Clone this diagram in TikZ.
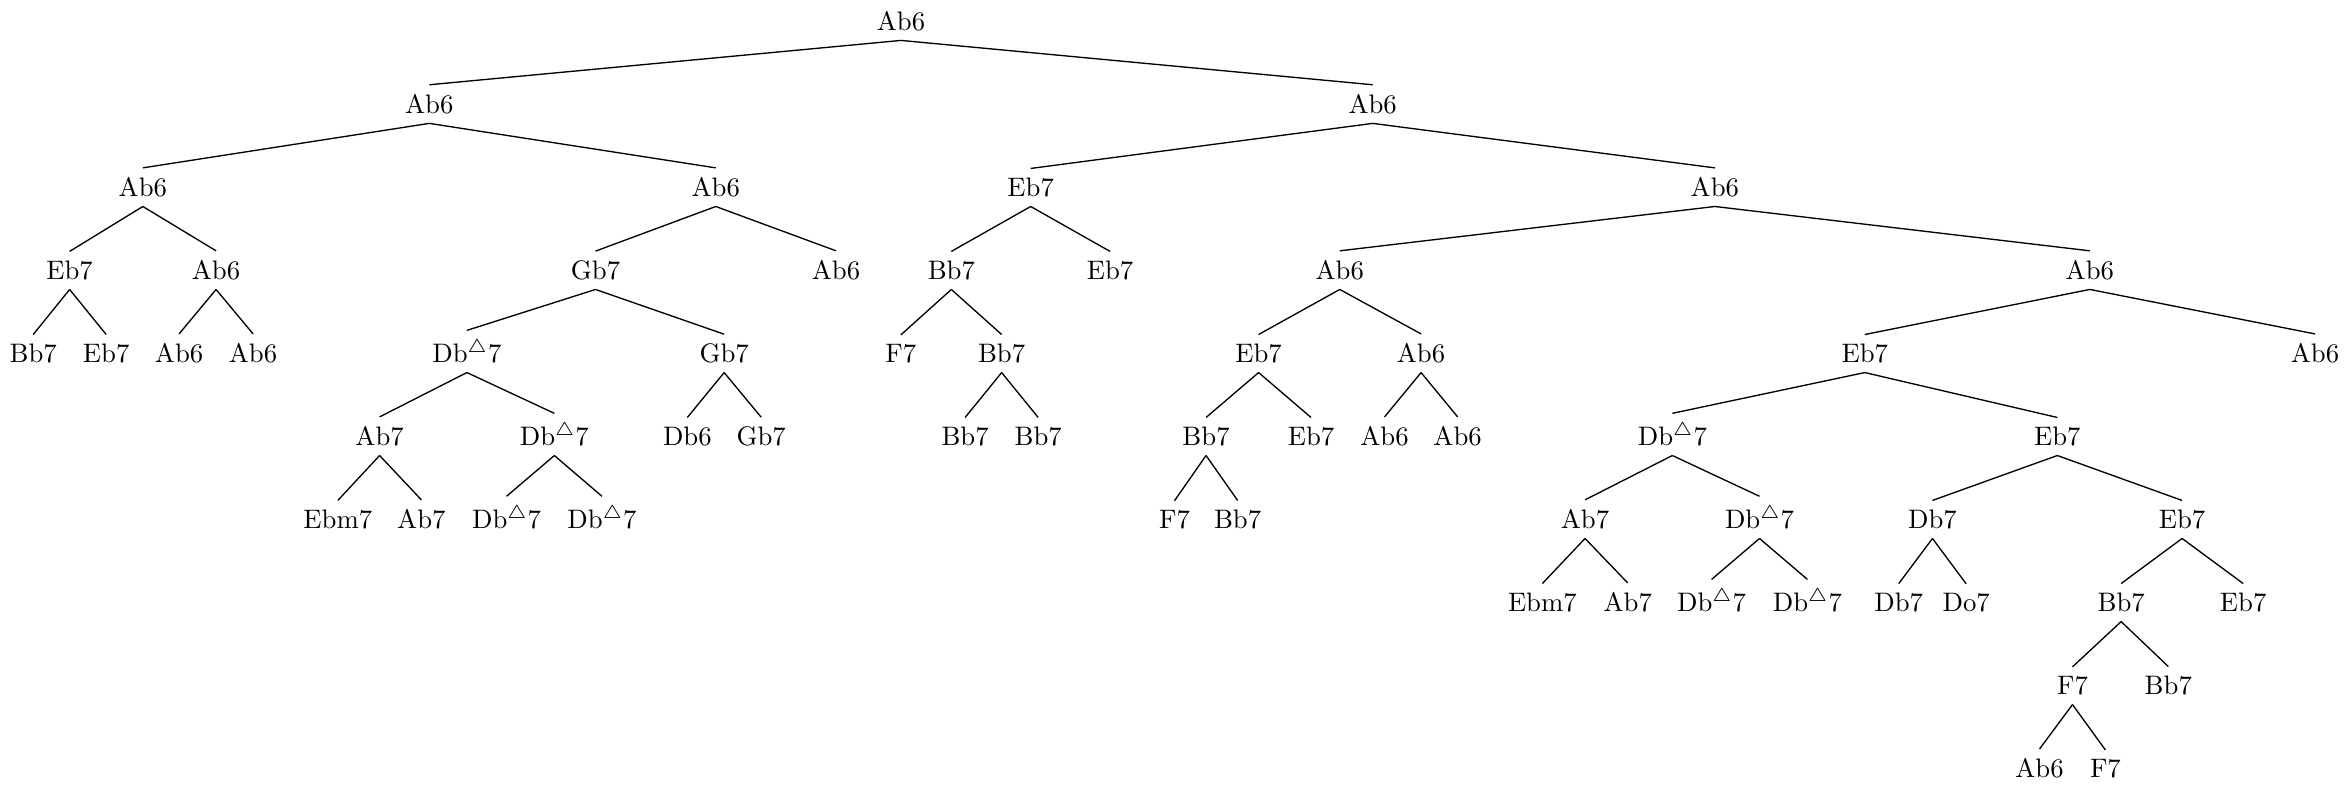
\documentclass[tikz,border=0pt]{standalone}
\newcommand\dmaj{Db$^{\triangle}$7}
\begin{document}
\begin{tikzpicture}[x=0.56pt,y=-0.56pt,
  tn/.style={anchor=base, inner sep=0.3333em},
  br/.style={line width=0.5pt}]
\useasboundingbox (0,0) rectangle (1568,524.2);
% level 0
\node[tn] (r) at (601.7,20.3) {Ab6};
% level 1
\node[tn] (a) at (286.7,75.7) {Ab6};
\node[tn] (b) at (916.7,75.7) {Ab6};
% level 2
\node[tn] (aa) at (95.4,131.2) {Ab6};
\node[tn] (ab) at (478.0,131.2) {Ab6};
\node[tn] (ba) at (688.3,131.2) {Eb7};
\node[tn] (bb) at (1145.2,131.2) {Ab6};
% level 3
\node[tn] (aaa) at (46.5,186.6) {Eb7};
\node[tn] (aab) at (144.3,186.6) {Ab6};
\node[tn] (aba) at (397.7,186.6) {Gb7};
\node[tn] (abb) at (558.3,186.6) {Ab6};
\node[tn] (baa) at (635.3,186.6) {Bb7};
\node[tn] (bab) at (741.3,186.6) {Eb7};
\node[tn] (bba) at (894.7,186.6) {Ab6};
\node[tn] (bbb) at (1395.6,186.6) {Ab6};
% level 4
\node[tn] (aaaa) at (22.2,242.1) {Bb7};
\node[tn] (aaab) at (70.9,242.1) {Eb7};
\node[tn] (aaba) at (119.6,242.1) {Ab6};
\node[tn] (aabb) at (169.0,242.1) {Ab6};
\node[tn] (abaa) at (311.8,242.1) {\dmaj};
\node[tn] (abab) at (483.6,242.1) {Gb7};
\node[tn] (baaa) at (601.6,242.1) {F7};
\node[tn] (baab) at (668.9,242.1) {Bb7};
\node[tn] (bbaa) at (840.5,242.1) {Eb7};
\node[tn] (bbab) at (949.0,242.1) {Ab6};
\node[tn] (bbba) at (1245.3,242.1) {Eb7};
\node[tn] (bbbb) at (1546.0,242.1) {Ab6};
% level 5
\node[tn] (abaaa) at (253.5,297.5) {Ab7};
\node[tn] (abaab) at (370.2,297.5) {\dmaj};
\node[tn] (ababa) at (459.0,297.5) {Db6};
\node[tn] (ababb) at (508.3,297.5) {Gb7};
\node[tn] (baaba) at (644.5,297.5) {Bb7};
\node[tn] (baabb) at (693.3,297.5) {Bb7};
\node[tn] (bbaaa) at (805.4,297.5) {Bb7};
\node[tn] (bbaab) at (875.5,297.5) {Eb7};
\node[tn] (bbaba) at (924.6,297.5) {Ab6};
\node[tn] (bbabb) at (973.4,297.5) {Ab6};
\node[tn] (bbbaa) at (1116.8,297.5) {\dmaj};
\node[tn] (bbbab) at (1373.9,297.5) {Eb7};
% level 6
\node[tn] (abaaaa) at (225.6,352.9) {Ebm7};
\node[tn] (abaaab) at (281.4,352.9) {Ab7};
\node[tn] (abaaba) at (338.3,352.9) {\dmaj};
\node[tn] (abaabb) at (402.0,352.9) {\dmaj};
\node[tn] (bbaaaa) at (784.3,352.9) {F7};
\node[tn] (bbaaab) at (826.5,352.9) {Bb7};
\node[tn] (bbbaaa) at (1058.5,352.9) {Ab7};
\node[tn] (bbbaab) at (1175.0,352.9) {\dmaj};
\node[tn] (bbbaba) at (1290.5,352.9) {Db7};
\node[tn] (bbbabb) at (1457.2,352.9) {Eb7};
% level 7
\node[tn] (bbbaaaa) at (1030,408.4) {Ebm7};
\node[tn] (bbbaaab) at (1087,408.4) {Ab7};
\node[tn] (bbbaaba) at (1143,408.4) {\dmaj};
\node[tn] (bbbaabb) at (1207,408.4) {\dmaj};
\node[tn] (bbbabaa) at (1268,408.4) {Db7};
\node[tn] (bbbabab) at (1313,408.4) {Do7};
\node[tn] (bbbabba) at (1416.5,408.4) {Bb7};
\node[tn] (bbbabbb) at (1498,408.4) {Eb7};
% level 8
\node[tn] (bbbabbaa) at (1384,463.8) {F7};
\node[tn] (bbbabbab) at (1448,463.8) {Bb7};
% level 9
\node[tn] (bbbabbaaa) at (1362,519.3) {Ab6};
\node[tn] (bbbabbaab) at (1406,519.3) {F7};
% edges
\foreach \p/\c in {r/a,r/b,a/aa,a/ab,b/ba,b/bb,
  aa/aaa,aa/aab,ab/aba,ab/abb,ba/baa,ba/bab,bb/bba,bb/bbb,
  aaa/aaaa,aaa/aaab,aab/aaba,aab/aabb,aba/abaa,aba/abab,baa/baaa,baa/baab,
  bba/bbaa,bba/bbab,bbb/bbba,bbb/bbbb,
  abaa/abaaa,abaa/abaab,abab/ababa,abab/ababb,baab/baaba,baab/baabb,
  bbaa/bbaaa,bbaa/bbaab,bbab/bbaba,bbab/bbabb,bbba/bbbaa,bbba/bbbab,
  abaaa/abaaaa,abaaa/abaaab,abaab/abaaba,abaab/abaabb,bbaaa/bbaaaa,bbaaa/bbaaab,
  bbbaa/bbbaaa,bbbaa/bbbaab,bbbab/bbbaba,bbbab/bbbabb,
  bbbaaa/bbbaaaa,bbbaaa/bbbaaab,bbbaab/bbbaaba,bbbaab/bbbaabb,
  bbbaba/bbbabaa,bbbaba/bbbabab,bbbabb/bbbabba,bbbabb/bbbabbb,
  bbbabba/bbbabbaa,bbbabba/bbbabbab,bbbabbaa/bbbabbaaa,bbbabbaa/bbbabbaab}
  \draw[br] (\p.south) -- (\c.north);
\end{tikzpicture}
\end{document}
